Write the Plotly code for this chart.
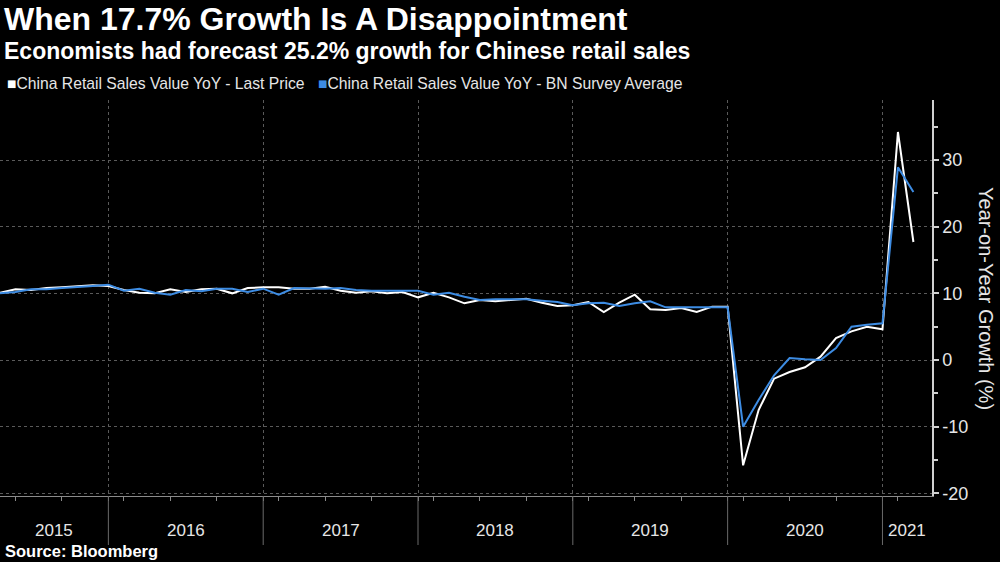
import plotly.graph_objects as go

# ---------------- data ----------------
periods = [
    "2015-05", "2015-06", "2015-07", "2015-08", "2015-09", "2015-10", "2015-11", "2015-12",
    "2016-03", "2016-04", "2016-05", "2016-06", "2016-07", "2016-08", "2016-09", "2016-10", "2016-11", "2016-12",
    "2017-03", "2017-04", "2017-05", "2017-06", "2017-07", "2017-08", "2017-09", "2017-10", "2017-11", "2017-12",
    "2018-03", "2018-04", "2018-05", "2018-06", "2018-07", "2018-08", "2018-09", "2018-10", "2018-11", "2018-12",
    "2019-03", "2019-04", "2019-05", "2019-06", "2019-07", "2019-08", "2019-09", "2019-10", "2019-11", "2019-12",
    "2020-03", "2020-04", "2020-05", "2020-06", "2020-07", "2020-08", "2020-09", "2020-10", "2020-11", "2020-12",
    "2021-03", "2021-04",
]
last_price = [
    10.1, 10.6, 10.5, 10.8, 10.9, 11.0, 11.2, 11.1,
    10.5, 10.1, 10.0, 10.6, 10.2, 10.6, 10.7, 10.0, 10.8, 10.9,
    10.9, 10.7, 10.7, 11.0, 10.4, 10.1, 10.3, 10.0, 10.2, 9.4,
    10.1, 9.4, 8.5, 9.0, 8.8, 9.0, 9.2, 8.6, 8.1, 8.2,
    8.7, 7.2, 8.6, 9.8, 7.6, 7.5, 7.8, 7.2, 8.0, 8.0,
    -15.8, -7.5, -2.8, -1.8, -1.1, 0.5, 3.3, 4.3, 5.0, 4.6,
    34.2, 17.7,
]
survey_avg = [
    10.0, 10.2, 10.6, 10.6, 10.8, 10.9, 11.1, 11.3,
    10.4, 10.7, 10.1, 9.8, 10.5, 10.3, 10.7, 10.7, 10.2, 10.7,
    9.8, 10.8, 10.7, 10.7, 10.8, 10.5, 10.4, 10.4, 10.4, 10.4,
    9.8, 10.1, 9.5, 9.0, 9.1, 9.1, 9.1, 8.9, 8.7, 8.2,
    8.5, 8.6, 8.1, 8.5, 8.8, 7.9, 7.9, 7.8, 7.8, 7.9,
    -10.0, -6.0, -2.3, 0.3, 0.1, 0.0, 1.8, 5.0, 5.3, 5.5,
    28.9, 25.2,
]
series_names = [
    "China Retail Sales Value YoY - Last Price",
    "China Retail Sales Value YoY - BN Survey Average",
]
y_tick_values = [-20, -10, 0, 10, 20, 30]
y_minor_values = [-15, -5, 5, 15, 25, 35]

title = "When 17.7% Growth Is A Disappointment"
subtitle = "Economists had forecast 25.2% growth for Chinese retail sales"
source = "Source: Bloomberg"
y_title = "Year-on-Year Growth (%)"

# ---------------- styles ----------------
WHITE = "#ffffff"
BLUE = "#3d8ce3"
TEXT = "#e6e6e6"
GRID = "#5a5a5a"
FONT = "Liberation Sans Narrow, Liberation Sans, Arial, sans-serif"
BOLD = "Liberation Sans, Arial, sans-serif"

# index-based x axis (one step per published observation)
x_idx = list(range(len(periods)))
x_end = x_idx[-1] + 1.2
year_of = [p[:4] for p in periods]
years = sorted(set(year_of))
last_idx = {y: max(i for i, yy in enumerate(year_of) if yy == y) for y in years}
boundaries = [last_idx[y] for y in years[:-1]]
band_start = [0] + boundaries
band_end = boundaries + [x_end]
quarter_ticks = [i for i, p in enumerate(periods) if p[5:] in ("03", "06", "09", "12")]

fig = go.Figure()
fig.add_trace(go.Scatter(x=x_idx, y=last_price, mode="lines", name=series_names[0],
                         line=dict(color=WHITE, width=2)))
fig.add_trace(go.Scatter(x=x_idx, y=survey_avg, mode="lines", name=series_names[1],
                         line=dict(color=BLUE, width=2)))

W, H = 1000, 562
ML, MR, MT, MB = 0, 68, 100, 66
PW, PH = W - ML - MR, H - MT - MB


def py(px_y):
    return (H - MB - px_y) / PH


def pxx(px_x):
    return (px_x - ML) / PW


annotations = [
    dict(text=f"<b>{title}</b>", x=pxx(2), y=py(19), xref="paper", yref="paper",
         xanchor="left", yanchor="middle", showarrow=False,
         font=dict(family=BOLD, size=32, color=WHITE)),
    dict(text=f"<b>{subtitle}</b>", x=pxx(2), y=py(51), xref="paper", yref="paper",
         xanchor="left", yanchor="middle", showarrow=False,
         font=dict(family=BOLD, size=23, color=WHITE)),
    dict(text=f"<span style='color:{WHITE}'>■</span>{series_names[0]}",
         x=pxx(5), y=py(84), xref="paper", yref="paper",
         xanchor="left", yanchor="middle", showarrow=False,
         font=dict(family=FONT, size=15.7, color=TEXT)),
    dict(text=f"<span style='color:{BLUE}'>■</span>{series_names[1]}",
         x=pxx(316), y=py(84), xref="paper", yref="paper",
         xanchor="left", yanchor="middle", showarrow=False,
         font=dict(family=FONT, size=15.7, color=TEXT)),
    dict(text=f"<b>{source}</b>", x=pxx(3), y=py(551), xref="paper", yref="paper",
         xanchor="left", yanchor="middle", showarrow=False,
         font=dict(family=BOLD, size=16.5, color=WHITE)),
    dict(text=y_title, x=pxx(986), y=py(298), xref="paper", yref="paper",
         xanchor="center", yanchor="middle", showarrow=False, textangle=90,
         font=dict(family=FONT, size=20, color=TEXT)),
]
for yr, s, e in zip(years, band_start, band_end):
    annotations.append(dict(text=yr, x=(s + e) / 2, y=py(530), xref="x", yref="paper",
                            xanchor="center", yanchor="middle", showarrow=False,
                            font=dict(family=FONT, size=17, color=TEXT)))

shapes = [dict(type="line", xref="x", yref="paper", x0=b, x1=b, y0=0, y1=py(545),
               line=dict(color="#6a6a6a", width=1)) for b in boundaries]

fig.update_layout(
    width=W, height=H,
    margin=dict(l=ML, r=MR, t=MT, b=MB),
    paper_bgcolor="#000000", plot_bgcolor="#000000",
    showlegend=False,
    annotations=annotations,
    shapes=shapes,
    xaxis=dict(range=[0, x_end], tickmode="array", tickvals=boundaries,
               showticklabels=False, ticks="", showgrid=True, gridcolor=GRID,
               griddash="dot", gridwidth=1, zeroline=False,
               showline=True, linecolor="#8a8a8a", linewidth=1,
               minor=dict(tickmode="array", tickvals=quarter_ticks, ticks="outside",
                          ticklen=4, tickcolor="#8a8a8a", showgrid=False)),
    yaxis=dict(side="right", range=[-20.4, 39], tickmode="array",
               tickvals=y_tick_values, ticktext=[str(v) for v in y_tick_values],
               ticks="outside", ticklen=5, tickwidth=2, tickcolor="#d0d0d0",
               showgrid=True, gridcolor=GRID, griddash="dot", gridwidth=1,
               zeroline=False, showline=True, linecolor="#d0d0d0", linewidth=1.5,
               tickfont=dict(family=FONT, size=18, color=TEXT),
               minor=dict(tickmode="array", tickvals=y_minor_values, ticks="outside",
                          ticklen=4, tickcolor="#d0d0d0", showgrid=False)),
)

fig.write_html(
    "out.html",
    config={"displayModeBar": False},
    post_script="document.body.style.margin='0';document.body.style.background='#000';",
)
